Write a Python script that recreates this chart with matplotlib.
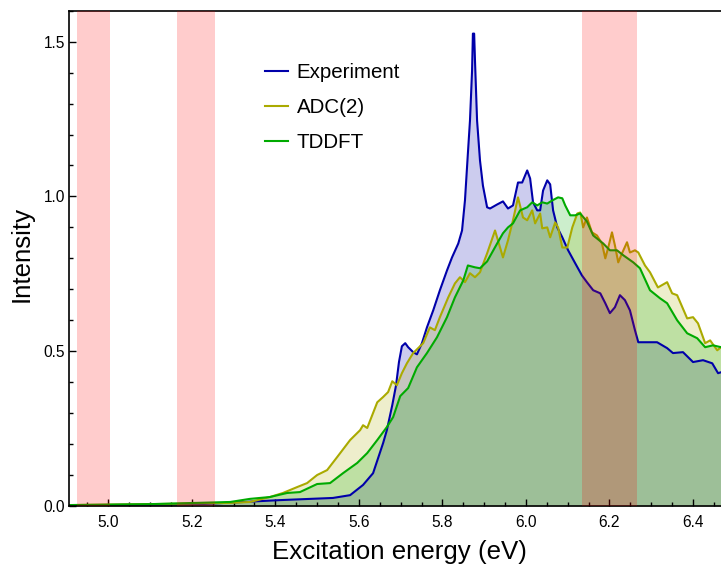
import matplotlib
matplotlib.use("Agg")
import matplotlib.pyplot as plt
from matplotlib.ticker import MultipleLocator
import numpy as np

plt.rcParams['font.family'] = ['Liberation Sans', 'DejaVu Sans']

# Experiment
exp_x = [4.906, 5.220, 5.411, 5.538, 5.579, 5.610, 5.634, 5.658, 5.667, 5.680,
         5.689, 5.696, 5.703, 5.711, 5.718, 5.730, 5.739, 5.751, 5.763, 5.778,
         5.794, 5.811, 5.823, 5.838, 5.847, 5.854, 5.861, 5.866, 5.871, 5.873,
         5.876, 5.878, 5.883, 5.890, 5.897, 5.907, 5.914, 5.931, 5.945, 5.957,
         5.969, 5.981, 5.991, 6.003, 6.010, 6.017, 6.027, 6.034, 6.041, 6.051,
         6.058, 6.065, 6.075, 6.087, 6.101, 6.118, 6.134, 6.146, 6.161, 6.178,
         6.190, 6.201, 6.213, 6.225, 6.237, 6.249, 6.261, 6.269, 6.290, 6.314,
         6.338, 6.352, 6.376, 6.400, 6.424, 6.446, 6.460, 6.467]
exp_y = [0.002, 0.006, 0.019, 0.026, 0.035, 0.068, 0.106, 0.203, 0.245, 0.326,
         0.390, 0.465, 0.516, 0.526, 0.513, 0.497, 0.490, 0.526, 0.577, 0.632,
         0.697, 0.761, 0.803, 0.848, 0.890, 0.987, 1.139, 1.245, 1.406, 1.526,
         1.526, 1.439, 1.245, 1.116, 1.035, 0.965, 0.961, 0.974, 0.984, 0.961,
         0.971, 1.045, 1.045, 1.084, 1.058, 0.981, 0.955, 0.955, 1.019, 1.052,
         1.039, 0.955, 0.900, 0.868, 0.826, 0.784, 0.745, 0.723, 0.697, 0.687,
         0.655, 0.623, 0.642, 0.681, 0.665, 0.632, 0.568, 0.529, 0.529, 0.529,
         0.510, 0.494, 0.497, 0.465, 0.471, 0.461, 0.429, 0.432]

# ADC(2)
adc_x = [4.906, 5.100, 5.292, 5.339, 5.387, 5.418, 5.452, 5.476, 5.500, 5.524,
         5.548, 5.579, 5.603, 5.610, 5.620, 5.644, 5.658, 5.670, 5.680, 5.691,
         5.703, 5.715, 5.730, 5.754, 5.770, 5.782, 5.794, 5.814, 5.830, 5.842,
         5.854, 5.866, 5.878, 5.890, 5.907, 5.926, 5.933, 5.945, 5.957, 5.969,
         5.981, 5.993, 6.003, 6.015, 6.022, 6.034, 6.039, 6.051, 6.058, 6.070,
         6.077, 6.087, 6.099, 6.111, 6.123, 6.130, 6.137, 6.146, 6.158, 6.170,
         6.182, 6.190, 6.197, 6.206, 6.213, 6.221, 6.230, 6.242, 6.249, 6.261,
         6.269, 6.285, 6.297, 6.316, 6.338, 6.350, 6.362, 6.386, 6.400, 6.412,
         6.429, 6.441, 6.458, 6.467]
adc_y = [0.003, 0.006, 0.010, 0.013, 0.029, 0.042, 0.061, 0.074, 0.100, 0.116,
         0.158, 0.213, 0.245, 0.261, 0.252, 0.335, 0.352, 0.368, 0.403, 0.390,
         0.429, 0.461, 0.494, 0.526, 0.577, 0.568, 0.610, 0.674, 0.719, 0.739,
         0.723, 0.752, 0.739, 0.755, 0.816, 0.890, 0.858, 0.803, 0.858, 0.923,
         0.997, 0.932, 0.923, 0.955, 0.913, 0.945, 0.897, 0.900, 0.868, 0.916,
         0.900, 0.835, 0.835, 0.900, 0.945, 0.948, 0.900, 0.932, 0.884, 0.874,
         0.848, 0.800, 0.835, 0.884, 0.842, 0.787, 0.816, 0.852, 0.819, 0.826,
         0.819, 0.777, 0.755, 0.706, 0.723, 0.687, 0.681, 0.606, 0.610, 0.590,
         0.526, 0.535, 0.503, 0.513]

# TDDFT
tddft_x = [4.906, 5.100, 5.292, 5.339, 5.387, 5.428, 5.459, 5.500, 5.531, 5.562,
           5.596, 5.620, 5.644, 5.667, 5.682, 5.699, 5.718, 5.739, 5.763, 5.787,
           5.811, 5.830, 5.850, 5.861, 5.878, 5.890, 5.907, 5.931, 5.945, 5.957,
           5.969, 5.986, 6.003, 6.015, 6.027, 6.039, 6.051, 6.063, 6.077, 6.087,
           6.094, 6.106, 6.118, 6.130, 6.146, 6.161, 6.185, 6.201, 6.218, 6.233,
           6.257, 6.273, 6.297, 6.321, 6.338, 6.362, 6.386, 6.410, 6.429, 6.448,
           6.467]
tddft_y = [0.003, 0.006, 0.013, 0.023, 0.029, 0.042, 0.045, 0.071, 0.074, 0.106,
           0.139, 0.171, 0.213, 0.255, 0.287, 0.355, 0.381, 0.448, 0.494, 0.545,
           0.610, 0.674, 0.729, 0.777, 0.771, 0.768, 0.790, 0.848, 0.881, 0.900,
           0.913, 0.955, 0.965, 0.981, 0.971, 0.981, 0.977, 0.987, 0.997, 0.994,
           0.971, 0.939, 0.939, 0.945, 0.919, 0.874, 0.848, 0.826, 0.826, 0.810,
           0.787, 0.768, 0.697, 0.671, 0.655, 0.600, 0.558, 0.542, 0.513, 0.519,
           0.513]

labels = ["Experiment", "ADC(2)", "TDDFT"]
colors = ["#0000aa", "#aaaa00", "#00aa00"]

# excitation windows highlighted in red
bands = [(4.925, 5.005), (5.165, 5.255), (6.135, 6.265)]

fig = plt.figure(figsize=(7.21, 5.65), dpi=100)
ax = fig.add_axes([69 / 721, 59 / 565, 652 / 721, 495.3 / 565])

series = [(exp_x, exp_y), (adc_x, adc_y), (tddft_x, tddft_y)]
for (x, y), c in zip(series, colors):
    ax.fill_between(x, y, 0, color=c, alpha=0.2, lw=0)
for (x, y), c, lab in zip(series, colors, labels):
    ax.plot(x, y, color=c, lw=1.5, label=lab)

for lo, hi in bands:
    ax.axvspan(lo, hi, color="red", alpha=0.2, lw=0, zorder=5)

ax.set_xlim(4.906, 6.467)
ax.set_ylim(0, 1.6)
ax.xaxis.set_major_locator(MultipleLocator(0.2))
ax.xaxis.set_minor_locator(MultipleLocator(0.05))
ax.yaxis.set_major_locator(MultipleLocator(0.5))
ax.yaxis.set_minor_locator(MultipleLocator(0.1))
ax.tick_params(which="both", direction="in", top=False, right=False,
               labelsize=11.2, width=1)
ax.tick_params(which="major", length=5)
ax.tick_params(which="minor", length=3)
ax.tick_params(axis="x", pad=6.5)
ax.tick_params(axis="y", pad=3)
ax.spines["right"].set_visible(False)
for s in ["left", "bottom", "top"]:
    ax.spines[s].set_linewidth(1.2)

ax.set_xlabel("Excitation energy (eV)", fontsize=18.6)
ax.set_ylabel("Intensity", fontsize=18.6)
ax.xaxis.set_label_coords(0.507, -0.0686)
ax.yaxis.set_label_coords(-0.055, 0.509)

ax.legend(loc="upper left", bbox_to_anchor=(265 / 721, 1 - 63 / 565),
          bbox_transform=fig.transFigure, frameon=False, fontsize=14.8,
          handlelength=1.1, handletextpad=0.45, labelspacing=0.79,
          borderpad=0, borderaxespad=0)

fig.savefig("out.png", dpi=100)
